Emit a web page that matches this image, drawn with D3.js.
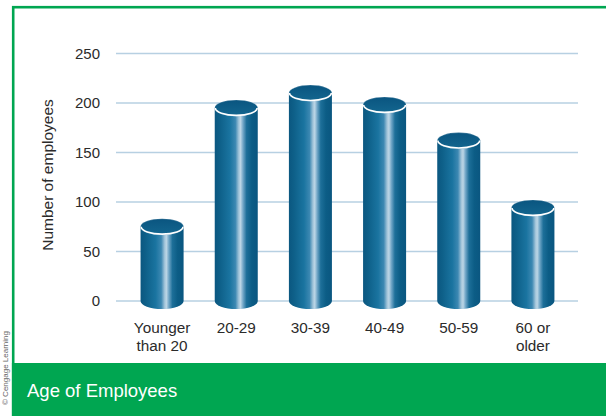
<!DOCTYPE html>
<html>
<head>
<meta charset="utf-8">
<script src="https://cdn.jsdelivr.net/npm/d3@7"></script>
<style>
  html, body { margin: 0; padding: 0; background: #fff; }
  svg { display: block; font-family: "Liberation Sans", Arial, Helvetica, sans-serif; }
</style>
</head>
<body>
<svg id="chart" width="606" height="416"></svg>
<script>
// Age groups and headcounts
const categories = [["Younger", "than 20"], ["20-29"], ["30-39"], ["40-49"], ["50-59"], ["60 or", "older"]];
const employees = [75, 195, 210, 198, 162, 94];
const yTicks = [0, 50, 100, 150, 200, 250];
const title = "Age of Employees";
const yLabel = "Number of employees";

const svg = d3.select("#chart");
const W = 606, H = 416;
const green = "#00a651";

// Frame and caption band
svg.append("rect").attr("x", 13.2).attr("y", 7.2).attr("width", W).attr("height", H)
  .attr("fill", "#fff").attr("stroke", green).attr("stroke-width", 2.6);
svg.append("rect").attr("x", 11.9).attr("y", 363).attr("width", W).attr("height", H - 363)
  .attr("fill", green);
svg.append("text").attr("x", 27).attr("y", 396.5).attr("fill", "#fff")
  .attr("font-size", 18.5).text(title);

// Credit line running up the left margin
svg.append("text").attr("transform", "translate(7.5,405) rotate(-90)")
  .attr("font-size", 8).attr("fill", "#666").text("© Cengage Learning");

const x = d3.scaleBand().domain(d3.range(categories.length)).range([125, 570])
  .paddingInner(0.42).paddingOuter(0.21);
const y = d3.scaleLinear().domain([0, 250]).range([301, 53.5]);

// Gridlines
svg.append("g").selectAll("line").data(yTicks).join("line")
  .attr("x1", 116).attr("x2", 578)
  .attr("y1", d => y(d)).attr("y2", d => y(d))
  .attr("stroke", "#b7d0e2").attr("stroke-width", 1.5);

// Y axis tick labels
const yAxis = svg.append("g").attr("transform", "translate(100,0)")
  .call(d3.axisLeft(y).tickValues(yTicks).tickSize(0).tickPadding(0));
yAxis.select(".domain").remove();
yAxis.selectAll("text").attr("font-size", 15).attr("fill", "#2b2b2b")
  .attr("font-family", "'Liberation Sans', Arial, sans-serif");

svg.append("text").attr("transform", "translate(52.5,175) rotate(-90)")
  .attr("text-anchor", "middle").attr("font-size", 15.5).attr("fill", "#2b2b2b").text(yLabel);

// X axis labels (two lines where needed)
const xl = svg.append("g").selectAll("text").data(categories).join("text")
  .attr("text-anchor", "middle").attr("font-size", 15.3).attr("fill", "#2b2b2b")
  .attr("x", (d, i) => x(i) + x.bandwidth() / 2);
xl.selectAll("tspan").data(d => d).join("tspan")
  .attr("x", function () { return this.parentNode.getAttribute("x"); })
  .attr("y", (d, j) => 333.3 + j * 17.8)
  .text(d => d);

// Cylinder shading
const defs = svg.append("defs");
const bodyGrad = defs.append("linearGradient").attr("id", "cylBody")
  .attr("x1", "0%").attr("x2", "100%").attr("y1", "0%").attr("y2", "0%");
[[0, "#0b5780"], [0.12, "#0e6089"], [0.35, "#1a74a0"], [0.48, "#3c88b2"],
 [0.56, "#a3c5da"], [0.6, "#bcd6e6"], [0.66, "#6fa5c6"], [0.74, "#1d6f99"],
 [0.86, "#0c5d86"], [1, "#0a5680"]]
  .forEach(([o, c]) => bodyGrad.append("stop").attr("offset", o).attr("stop-color", c));
const lidGrad = defs.append("linearGradient").attr("id", "cylTop")
  .attr("x1", "0%").attr("x2", "0%").attr("y1", "0%").attr("y2", "100%");
[[0, "#0a5580"], [1, "#13668f"]]
  .forEach(([o, c]) => lidGrad.append("stop").attr("offset", o).attr("stop-color", c));

const rx = x.bandwidth() / 2, ry = 8;
const bars = svg.append("g").selectAll("g").data(employees).join("g");

bars.append("path")
  .attr("d", (d, i) => {
    const x0 = x(i), x1 = x0 + x.bandwidth(), yt = y(d), yb = y(0);
    return `M${x0},${yt} L${x0},${yb} A${rx},${ry} 0 0 0 ${x1},${yb} L${x1},${yt} Z`;
  })
  .attr("fill", "url(#cylBody)");

bars.append("ellipse")
  .attr("cx", (d, i) => x(i) + rx).attr("cy", d => y(d))
  .attr("rx", rx).attr("ry", ry)
  .attr("fill", "url(#cylTop)")
  .attr("stroke", "rgba(255,255,255,0.3)").attr("stroke-width", 0.7);

// White rim along the front edge of each lid
bars.append("path")
  .attr("d", (d, i) => {
    const x0 = x(i) + 0.6, x1 = x(i) + x.bandwidth() - 0.6, yt = y(d);
    return `M${x0},${yt} A${rx - 0.6},${ry - 0.6} 0 0 0 ${x1},${yt}`;
  })
  .attr("fill", "none").attr("stroke", "#fff").attr("stroke-width", 1.6);
</script>
</body>
</html>
